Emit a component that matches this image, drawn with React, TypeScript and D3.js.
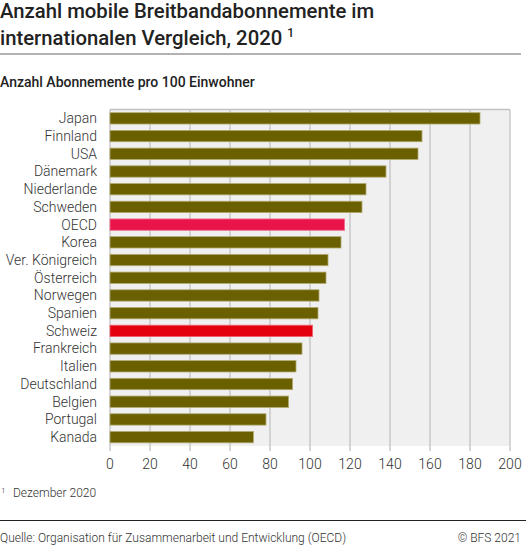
import React from "react";
import * as d3 from "d3";

const countries = ["Japan","Finnland","USA","Dänemark","Niederlande","Schweden","OECD","Korea","Ver. Königreich","Österreich","Norwegen","Spanien","Schweiz","Frankreich","Italien","Deutschland","Belgien","Portugal","Kanada"];
const values = [185,156,154,138,128,126,117.3,115.5,109,108,104.5,104,101.3,96,93,91.3,89.3,78,71.7];
const xTicks = [0,20,40,60,80,100,120,140,160,180,200];
const titleLines = ["Anzahl mobile Breitbandabonnemente im","internationalen Vergleich, 2020"];
const subtitle = "Anzahl Abonnemente pro 100 Einwohner";
const footnote = "Dezember 2020";
const source = "Quelle: Organisation für Zusammenarbeit und Entwicklung (OECD)";
const copyright = "© BFS 2021";

const W = 526, H = 546;
const FONT = "Roboto, 'Noto Sans', sans-serif";

export default function App() {
  const left = 110, right = 510, top = 109.5, bottom = 446;
  const x = d3.scaleLinear().domain([0, 200]).range([left, right]);
  const y = d3.scaleBand<string>().domain(countries).range([top, bottom]).paddingInner(0.36).paddingOuter(0.18);
  const colorFor = (c: string) => c === "OECD" ? "#e8144a" : c === "Schweiz" ? "#e3000f" : "#6a6000";
  const strokeFor = (c: string) => c === "OECD" ? "#f07090" : c === "Schweiz" ? "#f06070" : "#b0aa70";
  return (
    <svg width={W} height={H} style={{ position: "absolute", left: 0, top: 0, background: "#fff" }} fontFamily={FONT}>
      {titleLines.map((t, i) => (
        <text key={i} x={0} y={18 + i * 27} fontSize={20.3} fill="#222" fontWeight={500}>
          {t}{i === 1 ? <tspan dx={5} dy={-8} fontSize={12}>1</tspan> : null}
        </text>
      ))}
      <line x1={0} x2={521} y1={54} y2={54} stroke="#666" strokeWidth={1.2} />
      <text x={0} y={87} fontSize={14} fontWeight={500} fill="#222">{subtitle}</text>
      <rect x={left} y={top} width={right - left} height={bottom - top} fill="#f0f0f0" />
      {xTicks.map(t => (
        <g key={t}>
          <line x1={x(t)} x2={x(t)} y1={top} y2={bottom + 5} stroke="#c2c2c2" strokeWidth={1.3} />
          <text x={x(t)} y={469} fontSize={14} fontWeight={300} fill="#333" textAnchor="middle">{t}</text>
        </g>
      ))}
      <line x1={left} x2={right} y1={top} y2={top} stroke="#c2c2c2" strokeWidth={1.3} />
      {countries.map((c, i) => (
        <g key={c}>
          <rect x={x(0)} y={y(c)!} width={x(values[i]) - x(0)} height={y.bandwidth()} fill={colorFor(c)} stroke={strokeFor(c)} strokeWidth={0.8} />
          <text x={97} y={y(c)! + y.bandwidth() / 2} dy="0.35em" textAnchor="end" fontSize={14} fontWeight={300} fill="#333">{c}</text>
        </g>
      ))}
      <text x={1} y={493} fontSize={8} fontWeight={300} fill="#333">1</text>
      <text x={13} y={497} fontSize={12} fontWeight={300} fill="#333">{footnote}</text>
      <line x1={0} x2={526} y1={520.5} y2={520.5} stroke="#222" strokeWidth={1} />
      <text x={0} y={542} fontSize={12} fontWeight={300} fill="#333">{source}</text>
      <text x={521} y={542} fontSize={12} fontWeight={300} fill="#333" textAnchor="end">{copyright}</text>
    </svg>
  );
}
